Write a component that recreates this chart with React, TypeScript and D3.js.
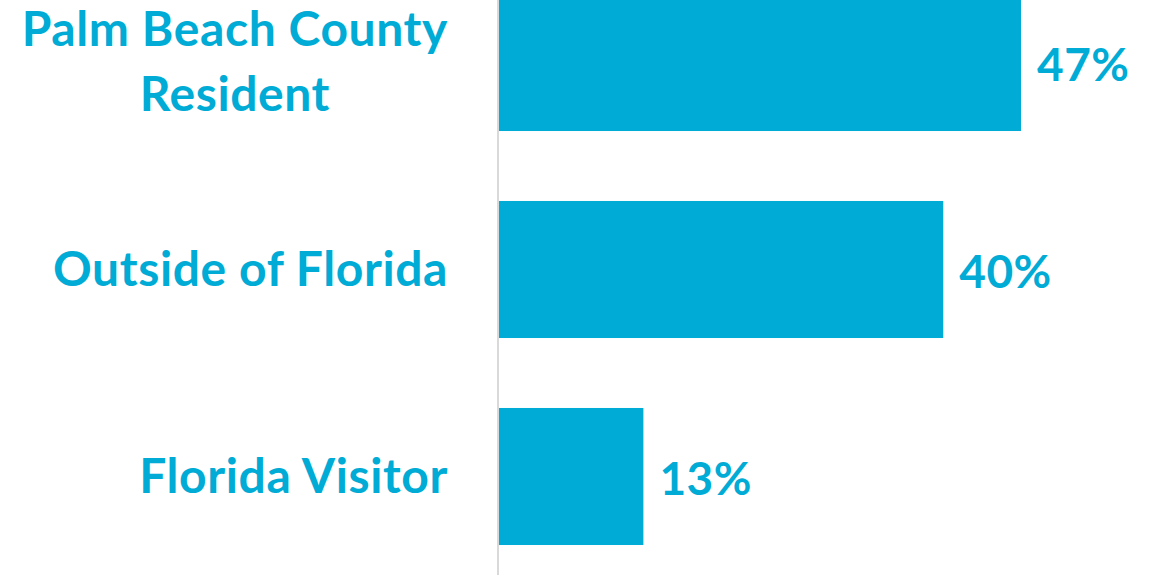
import React, { useEffect, useRef } from "react";
import * as d3 from "d3";

const categories: string[][] = [["Palm Beach County", "Resident"], ["Outside of Florida"], ["Florida Visitor"]];
const values: number[] = [47, 40, 13];
const valueLabels: string[] = ["47%", "40%", "13%"];

const W = 1161;
const H = 575;
const COLOR = "#00ABD5";
const FONT = "Lato, 'Open Sans', sans-serif";

export default function App() {
  const ref = useRef<SVGSVGElement | null>(null);

  useEffect(() => {
    const svg = d3.select(ref.current);
    svg.selectAll("*").remove();
    const axisX = 499;
    const x = d3.scaleLinear().domain([0, 47]).range([axisX, 1021]);
    const keys = categories.map((c) => c.join(" "));
    const y = d3.scaleBand<string>().domain(keys).range([-41, 580]).paddingInner(0.338).paddingOuter(0.169);

    svg
      .selectAll("rect.bar")
      .data(values)
      .enter()
      .append("rect")
      .attr("class", "bar")
      .attr("x", x(0))
      .attr("y", (_, i) => y(keys[i])!)
      .attr("width", (d) => x(d) - x(0))
      .attr("height", y.bandwidth())
      .attr("fill", COLOR);

    svg
      .append("line")
      .attr("x1", axisX - 1)
      .attr("x2", axisX - 1)
      .attr("y1", 0)
      .attr("y2", H)
      .attr("stroke", "#D9D9D9")
      .attr("stroke-width", 2);

    const lineH = 65;
    const labelRight = 448;
    categories.forEach((lines, i) => {
      const cy = y(keys[i])! + y.bandwidth() / 2;
      const g = svg.append("g");
      const texts = lines.map((ln, j) =>
        g
          .append("text")
          .attr("y", cy + 16 + (j - (lines.length - 1) / 2) * lineH)
          .attr("font-family", FONT)
          .attr("font-weight", 700)
          .attr("font-size", 48)
          .attr("letter-spacing", 0.6)
          .attr("fill", COLOR)
          .attr("text-anchor", "middle")
          .text(ln)
      );
      const widths = texts.map((t) => (t.node() as SVGTextElement).getComputedTextLength());
      const maxW = Math.max(...widths);
      texts.forEach((t) => t.attr("x", labelRight - maxW / 2));
    });

    svg
      .selectAll("text.val")
      .data(values)
      .enter()
      .append("text")
      .attr("class", "val")
      .attr("x", (d) => x(d) + 16)
      .attr("y", (_, i) => y(keys[i])! + y.bandwidth() / 2 + 18)
      .attr("font-family", FONT)
      .attr("font-weight", 700)
      .attr("font-size", 46)
      .attr("letter-spacing", 0.5)
      .attr("fill", COLOR)
      .text((_, i) => valueLabels[i]);
  }, []);

  return (
    <svg
      ref={ref}
      width={W}
      height={H}
      style={{ position: "absolute", left: 0, top: 0, display: "block", background: "#fff" }}
    />
  );
}
